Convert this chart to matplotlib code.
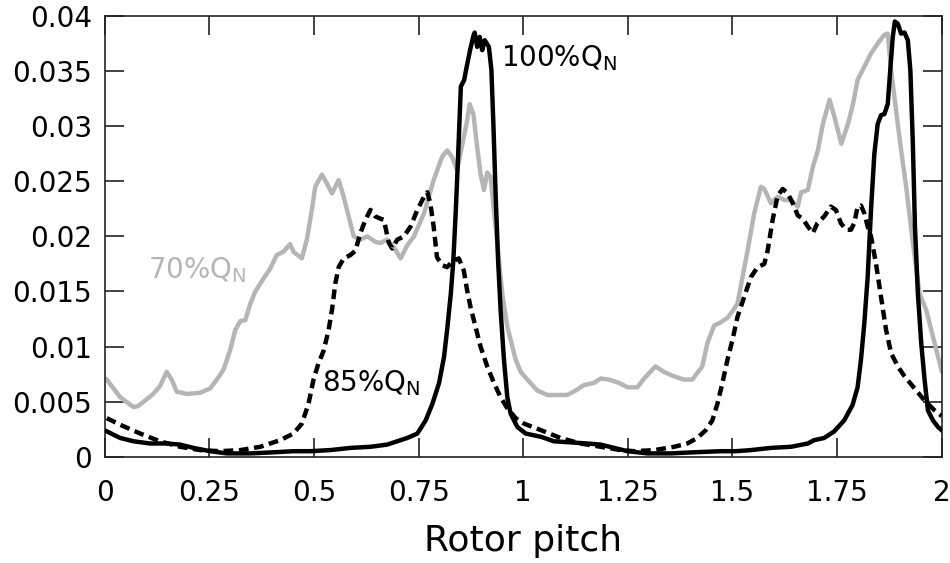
import numpy as np
import matplotlib
matplotlib.use("Agg")
import matplotlib.pyplot as plt
from matplotlib.ticker import FuncFormatter, MultipleLocator

# 70% Q_N (grey)
x70 = [0.005, 0.037, 0.069, 0.080, 0.116, 0.132, 0.148, 0.160, 0.172, 0.196,
       0.228, 0.252, 0.268, 0.284, 0.300, 0.312, 0.324, 0.336, 0.348, 0.360,
       0.380, 0.396, 0.411, 0.427, 0.443, 0.451, 0.471, 0.483, 0.495, 0.503,
       0.519, 0.531, 0.543, 0.559, 0.571, 0.583, 0.595, 0.611, 0.627, 0.647,
       0.659, 0.675, 0.691, 0.707, 0.723, 0.739, 0.763, 0.786, 0.806, 0.818,
       0.830, 0.842, 0.858, 0.866, 0.872, 0.881, 0.889, 0.898, 0.906, 0.914,
       0.922, 0.938, 0.950, 0.962, 0.970, 0.982, 0.994, 1.010, 1.034, 1.058,
       1.083, 1.105, 1.125, 1.145, 1.169, 1.185, 1.205, 1.229, 1.249, 1.273,
       1.289, 1.316, 1.336, 1.360, 1.384, 1.404, 1.416, 1.428, 1.440, 1.456,
       1.472, 1.488, 1.500, 1.512, 1.524, 1.536, 1.552, 1.568, 1.576, 1.592,
       1.608, 1.624, 1.640, 1.656, 1.664, 1.680, 1.692, 1.704, 1.716, 1.732,
       1.744, 1.760, 1.776, 1.788, 1.799, 1.815, 1.831, 1.847, 1.863, 1.871,
       1.879, 1.891, 1.903, 1.915, 1.931, 1.947, 1.963, 1.975, 1.987, 2.000]
y70 = [0.0070, 0.0054, 0.0045, 0.0046, 0.0057, 0.0064, 0.0077, 0.0070, 0.0059, 0.0057,
       0.0058, 0.0062, 0.0070, 0.0079, 0.0097, 0.0115, 0.0123, 0.0124, 0.0139, 0.0150,
       0.0162, 0.0171, 0.0183, 0.0186, 0.0193, 0.0186, 0.0180, 0.0197, 0.0224, 0.0245,
       0.0256, 0.0248, 0.0239, 0.0251, 0.0236, 0.0218, 0.0200, 0.0197, 0.0200, 0.0195,
       0.0194, 0.0197, 0.0190, 0.0180, 0.0192, 0.0200, 0.0221, 0.0251, 0.0272, 0.0278,
       0.0272, 0.0260, 0.0290, 0.0305, 0.0320, 0.0311, 0.0284, 0.0257, 0.0242, 0.0258,
       0.0254, 0.0193, 0.0148, 0.0118, 0.0106, 0.0088, 0.0077, 0.0070, 0.0060, 0.0056,
       0.0056, 0.0056, 0.0060, 0.0065, 0.0067, 0.0071, 0.0070, 0.0067, 0.0063, 0.0063,
       0.0071, 0.0082, 0.0077, 0.0073, 0.0070, 0.0070, 0.0076, 0.0082, 0.0103, 0.0119,
       0.0122, 0.0126, 0.0132, 0.0139, 0.0163, 0.0187, 0.0221, 0.0245, 0.0243, 0.0230,
       0.0236, 0.0233, 0.0233, 0.0227, 0.0240, 0.0242, 0.0263, 0.0278, 0.0302, 0.0324,
       0.0308, 0.0284, 0.0302, 0.0320, 0.0342, 0.0354, 0.0366, 0.0375, 0.0383, 0.0384,
       0.0351, 0.0314, 0.0278, 0.0245, 0.0194, 0.0148, 0.0133, 0.0115, 0.0097, 0.0078]

# 85% Q_N (dashed)
x85 = [0.005, 0.037, 0.085, 0.132, 0.180, 0.228, 0.276, 0.324, 0.372, 0.419,
       0.451, 0.471, 0.487, 0.499, 0.511, 0.523, 0.535, 0.543, 0.551, 0.559,
       0.571, 0.587, 0.599, 0.611, 0.623, 0.635, 0.647, 0.659, 0.667, 0.679,
       0.687, 0.699, 0.715, 0.731, 0.747, 0.763, 0.771, 0.778, 0.786, 0.794,
       0.806, 0.818, 0.830, 0.846, 0.858, 0.866, 0.874, 0.886, 0.898, 0.914,
       0.930, 0.946, 0.962, 0.982, 1.002, 1.043, 1.089, 1.137, 1.185, 1.233,
       1.265, 1.313, 1.361, 1.392, 1.416, 1.436, 1.452, 1.464, 1.476, 1.488,
       1.500, 1.512, 1.528, 1.544, 1.560, 1.576, 1.584, 1.596, 1.608, 1.620,
       1.632, 1.644, 1.656, 1.668, 1.680, 1.692, 1.703, 1.719, 1.735, 1.747,
       1.759, 1.771, 1.783, 1.791, 1.799, 1.807, 1.815, 1.823, 1.831, 1.843,
       1.855, 1.867, 1.879, 1.895, 1.911, 1.935, 1.959, 1.983, 2.000]
y85 = [0.0035, 0.0029, 0.0021, 0.0014, 0.0009, 0.0006, 0.0005, 0.0006, 0.0009, 0.0015,
       0.0021, 0.0030, 0.0048, 0.0070, 0.0085, 0.0096, 0.0115, 0.0133, 0.0157, 0.0172,
       0.0180, 0.0183, 0.0187, 0.0203, 0.0215, 0.0224, 0.0218, 0.0216, 0.0215, 0.0194,
       0.0189, 0.0197, 0.0200, 0.0209, 0.0224, 0.0236, 0.0240, 0.0230, 0.0209, 0.0181,
       0.0174, 0.0172, 0.0177, 0.0180, 0.0169, 0.0151, 0.0136, 0.0118, 0.0100, 0.0082,
       0.0067, 0.0054, 0.0044, 0.0035, 0.0030, 0.0024, 0.0017, 0.0012, 0.0009, 0.0006,
       0.0005, 0.0006, 0.0009, 0.0012, 0.0017, 0.0024, 0.0033, 0.0048, 0.0067, 0.0088,
       0.0106, 0.0127, 0.0145, 0.0163, 0.0172, 0.0175, 0.0187, 0.0215, 0.0237, 0.0243,
       0.0239, 0.0230, 0.0219, 0.0216, 0.0209, 0.0203, 0.0212, 0.0218, 0.0227, 0.0224,
       0.0212, 0.0206, 0.0206, 0.0212, 0.0227, 0.0228, 0.0221, 0.0209, 0.0200, 0.0175,
       0.0145, 0.0115, 0.0094, 0.0082, 0.0073, 0.0062, 0.0051, 0.0042, 0.0037]

# 100% Q_N (solid)
x100 = [0.005, 0.037, 0.069, 0.108, 0.148, 0.180, 0.212, 0.252, 0.292, 0.348,
        0.404, 0.451, 0.491, 0.539, 0.587, 0.635, 0.675, 0.699, 0.723, 0.747,
        0.767, 0.783, 0.799, 0.811, 0.819, 0.827, 0.833, 0.839, 0.844, 0.851,
        0.859, 0.865, 0.873, 0.881, 0.884, 0.890, 0.896, 0.902, 0.908, 0.918,
        0.924, 0.929, 0.934, 0.940, 0.946, 0.954, 0.962, 0.970, 0.986, 1.006,
        1.043, 1.073, 1.113, 1.153, 1.185, 1.217, 1.249, 1.297, 1.352, 1.408,
        1.472, 1.508, 1.544, 1.592, 1.640, 1.680, 1.695, 1.719, 1.743, 1.767,
        1.787, 1.799, 1.807, 1.815, 1.823, 1.831, 1.839, 1.847, 1.855, 1.863,
        1.871, 1.877, 1.883, 1.888, 1.895, 1.903, 1.911, 1.919, 1.925, 1.931,
        1.936, 1.943, 1.951, 1.959, 1.967, 1.979, 1.991, 2.000]
y100 = [0.0023, 0.0017, 0.0014, 0.0012, 0.0012, 0.0011, 0.0008, 0.0005, 0.0003, 0.0003,
        0.0004, 0.0005, 0.0005, 0.0006, 0.0008, 0.0009, 0.0011, 0.0014, 0.0017, 0.0021,
        0.0033, 0.0048, 0.0067, 0.0091, 0.0118, 0.0148, 0.0178, 0.0224, 0.0269, 0.0336,
        0.0342, 0.0354, 0.0369, 0.0382, 0.0385, 0.0372, 0.0381, 0.0369, 0.0378, 0.0372,
        0.0351, 0.0299, 0.0239, 0.0178, 0.0133, 0.0088, 0.0054, 0.0039, 0.0027, 0.0021,
        0.0018, 0.0014, 0.0013, 0.0012, 0.0011, 0.0008, 0.0005, 0.0003, 0.0003, 0.0004,
        0.0005, 0.0005, 0.0006, 0.0008, 0.0009, 0.0012, 0.0015, 0.0017, 0.0023, 0.0033,
        0.0047, 0.0063, 0.0088, 0.0121, 0.0163, 0.0224, 0.0275, 0.0302, 0.0310, 0.0311,
        0.0320, 0.0351, 0.0381, 0.0395, 0.0393, 0.0384, 0.0385, 0.0378, 0.0351, 0.0284,
        0.0209, 0.0148, 0.0103, 0.0070, 0.0042, 0.0033, 0.0027, 0.0024]

GREY = '#b5b5b5'

fig = plt.figure(figsize=(9.5, 5.63), dpi=100)
ax = fig.add_axes([0.1102, 0.1888, 0.8811, 0.7828])

ax.plot(x70, y70, color=GREY, lw=3.2, solid_joinstyle='round', zorder=2)
ax.plot(x85, y85, color='black', lw=3.2, ls=(0, (2.2, 1.25)), zorder=3)
ax.plot(x100, y100, color='black', lw=3.2, solid_joinstyle='round', zorder=4)

ax.text(0.946, 0.0354, r'100%Q$_\mathrm{N}$', fontsize=20, ha='left', va='baseline')
ax.text(0.520, 0.0059, r'85%Q$_\mathrm{N}$', fontsize=20, ha='left', va='baseline')
ax.text(0.104, 0.0162, r'70%Q$_\mathrm{N}$', fontsize=20, ha='left', va='baseline',
        color=GREY)

ax.set_xlim(0, 2)
ax.set_ylim(0, 0.04)
ax.xaxis.set_major_locator(MultipleLocator(0.25))
ax.yaxis.set_major_locator(MultipleLocator(0.005))
fmt = FuncFormatter(lambda v, pos: '%g' % round(v, 4))
ax.xaxis.set_major_formatter(fmt)
ax.yaxis.set_major_formatter(fmt)

ax.tick_params(direction='in', length=14, width=1.2, top=True, right=True,
               labelsize=20, color='#222222')
ax.tick_params(axis='x', pad=16)
ax.tick_params(axis='y', pad=9)
for sp in ax.spines.values():
    sp.set_linewidth(1.2)
    sp.set_color('#222222')

ax.set_xlabel('Rotor pitch', fontsize=26, labelpad=12)

fig.savefig('out.png', dpi=100)
